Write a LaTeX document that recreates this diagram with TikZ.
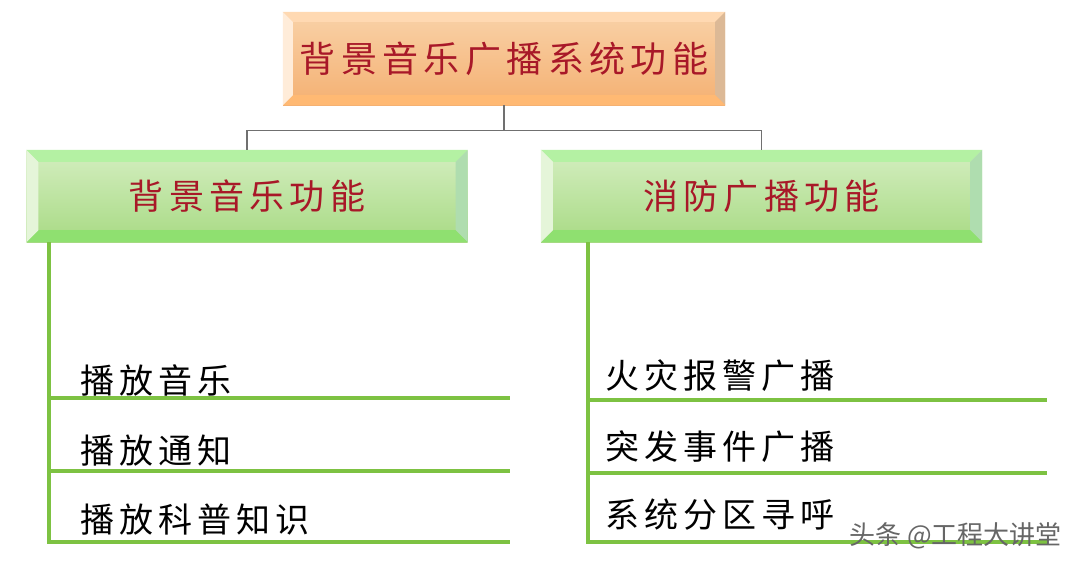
\documentclass[tikz,border=0pt]{standalone}
\usepackage{fontspec}
\setmainfont{Noto Sans CJK SC}
\newfontfamily\spacedfont[LetterSpace=15]{Noto Sans CJK SC}
\usetikzlibrary{positioning}
\usetikzlibrary{calc}
\definecolor{titlered}{HTML}{A81828}
\definecolor{linkgray}{HTML}{707070}
\definecolor{railgreen}{HTML}{7DC242}
\definecolor{orangetop}{HTML}{F9D2A8}
\definecolor{orangebot}{HTML}{F4B072}
\definecolor{greentop}{HTML}{D4EEC0}
\definecolor{greenbot}{HTML}{A8DA84}
\tikzset{headbox/.style={minimum width=442pt, minimum height=93pt, inner sep=0pt,
  top color=orangetop, middle color=white, bottom color=orangebot,
  font=\spacedfont\fontsize{36}{36}\selectfont, text=titlered}}
\tikzset{subbox/.style={minimum width=441pt, minimum height=92pt, inner sep=0pt,
  top color=greentop, middle color=white, bottom color=greenbot,
  font=\spacedfont\fontsize{35}{35}\selectfont, text=titlered}}
\tikzset{item/.style={anchor=west, inner sep=0pt, font=\spacedfont\fontsize{34}{34}\selectfont}}
\tikzset{link/.style={draw=linkgray, line width=1.2pt}}
\tikzset{rail/.style={draw=railgreen, line width=4pt}}
% bevelled frame: node, width, top, right, bottom, left
\newcommand{\bevelframe}[6]{%
  \fill[#3] (#1.north west) -- (#1.north east) -- ($(#1.north east)+(-#2,#2)$) -- ($(#1.north west)+(#2,#2)$) -- cycle;
  \fill[#4] (#1.north east) -- (#1.south east) -- ($(#1.south east)+(-#2,-#2)$) -- ($(#1.north east)+(-#2,#2)$) -- cycle;
  \fill[#5] (#1.south east) -- (#1.south west) -- ($(#1.south west)+(#2,-#2)$) -- ($(#1.south east)+(-#2,-#2)$) -- cycle;
  \fill[#6] (#1.south west) -- (#1.north west) -- ($(#1.north west)+(#2,#2)$) -- ($(#1.south west)+(#2,-#2)$) -- cycle;}
\begin{document}
\begin{tikzpicture}[x=1pt,y=-1pt]
\useasboundingbox[fill=white] (0,0) rectangle (1080,571);

\node[headbox] (top) at (504,58.5) {背景音乐广播系统功能};
\bevelframe{top}{10}{fill=orange!30!white}{fill=brown!55!white}{fill=orange!55!white}{fill=orange!15!white}

\node[subbox] (bgm) at (247,196) {背景音乐功能};
\node[subbox] (fire) at (761.5,196) {消防广播功能};
\bevelframe{bgm}{12}{fill=greentop!85!green}{fill=gray!60!green!45!white}{fill=greenbot!85!green}{fill=greentop!60!white}
\bevelframe{fire}{12}{fill=greentop!85!green}{fill=gray!60!green!45!white}{fill=greenbot!85!green}{fill=greentop!60!white}

\draw[link] (top.south) -- ++(0,25) coordinate (hub);
\draw[link] (bgm.north) |- (hub) -| (fire.north);

\node[item] (b1) at (80,380) {播放音乐};
\node[item] (b2) at (80,451) {播放通知};
\node[item] (b3) at (80,520) {播放科普知识};
\node[item] (f1) at (605,376) {火灾报警广播};
\node[item] (f2) at (605,447) {突发事件广播};
\node[item] (f3) at (605,515) {系统分区寻呼};

\coordinate (bl) at ($(bgm.south west)+(23,0)$);
\coordinate (br1) at (510,398);
\coordinate (br2) at (510,471);
\coordinate (br3) at (510,542);
\coordinate (fl) at ($(fire.south west)+(47,0)$);
\coordinate (fr1) at (1047,400);
\coordinate (fr2) at (1047,473);
\coordinate (fr3) at (1047,542);

\draw[rail] (bl) |- (br3);
\draw[rail] (bl |- br1) -- (br1);
\draw[rail] (bl |- br2) -- (br2);
\draw[rail] (fl) |- (fr3);
\draw[rail] (fl |- fr1) -- (fr1);
\draw[rail] (fl |- fr2) -- (fr2);

\node[anchor=east, inner sep=0pt, font=\fontsize{26}{26}\selectfont, text=gray!80!black] (mark) at (1062,536) {头条 @工程大讲堂};
\end{tikzpicture}
\end{document}
